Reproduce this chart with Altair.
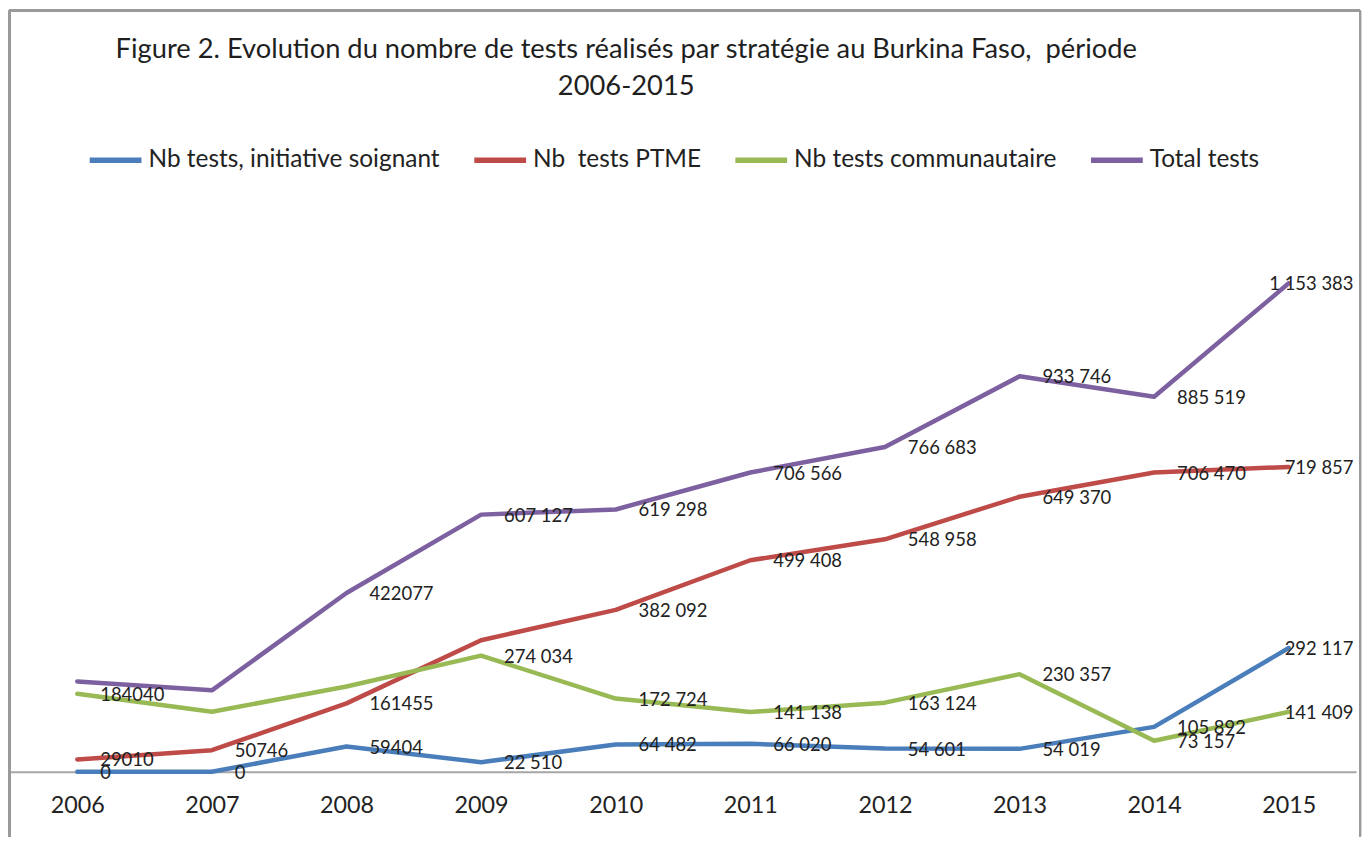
import altair as alt
import pandas as pd

years = ["2006", "2007", "2008", "2009", "2010", "2011", "2012", "2013", "2014", "2015"]

series_names = [
    "Nb tests, initiative soignant",
    "Nb\u00a0 tests PTME",
    "Nb tests communautaire",
    "Total tests",
]
series_colors = ["#4a7ebb", "#be4b48", "#98b954", "#7d60a0"]

soignant = [0, 0, 59404, 22510, 64482, 66020, 54601, 54019, 105892, 292117]
ptme = [29010, 50746, 161455, 310583, 382092, 499408, 548958, 649370, 706470, 719857]
communautaire = [184040, 141500, 201218, 274034, 172724, 141138, 163124, 230357, 73157, 141409]
total = [213050, 192246, 422077, 607127, 619298, 706566, 766683, 933746, 885519, 1153383]

soignant_labels = ["0", "0", "59404", "22 510", "64 482", "66 020", "54 601", "54 019", "105 892", "292 117"]
ptme_labels = ["29010", "50746", "161455", "", "382 092", "499 408", "548 958", "649 370", "706 470", "719 857"]
communautaire_labels = ["184040", "", "", "274 034", "172 724", "141 138", "163 124", "230 357", "73 157", "141 409"]
total_labels = ["", "", "422077", "607 127", "619 298", "706 566", "766 683", "933 746", "885 519", "1 153 383"]

title_lines = [
    "Figure 2. Evolution du nombre de tests réalisés par stratégie au Burkina Faso,\u00a0 période",
    "2006-2015",
]

rows = []
for name, vals, labs in zip(series_names,
                            [soignant, ptme, communautaire, total],
                            [soignant_labels, ptme_labels, communautaire_labels, total_labels]):
    for y, v, l in zip(years, vals, labs):
        rows.append({"year": y, "series": name, "value": v, "label": l})
df = pd.DataFrame(rows)

W, H = 1351, 595
FONT = "Lato"
TXT = "#222222"

x_enc = alt.X("year:O", scale=alt.Scale(type="point", padding=0.5),
              axis=alt.Axis(title=None, labelAngle=0, ticks=False, tickSize=0,
                            domainColor="#a6a6a6", domainWidth=2, grid=False,
                            labelFont=FONT, labelFontSize=23.4, labelColor=TXT,
                            labelPadding=23))
y_enc = alt.Y("value:Q", scale=alt.Scale(domain=[0, 1400000]), axis=None)
color_enc = alt.Color("series:N",
                      scale=alt.Scale(domain=series_names, range=series_colors),
                      legend=alt.Legend(title=None, orient="none", legendX=77, legendY=-48,
                                        direction="horizontal", columns=4,
                                        symbolType="stroke", symbolSize=2700,
                                        symbolStrokeWidth=5.5, labelFont=FONT,
                                        labelFontSize=24.5, labelColor=TXT,
                                        labelLimit=600, labelOffset=4,
                                        columnPadding=23, padding=0))

base = alt.Chart(df)

line_layers = []
for name in series_names:
    line_layers.append(
        base.transform_filter(alt.datum.series == name)
        .mark_line(strokeWidth=4.5, strokeCap="round", strokeJoin="round")
        .encode(x=x_enc, y=y_enc, color=color_enc)
    )

labels_main = base.transform_filter(
    (alt.datum.label != "") & (alt.datum.year != "2015")
).mark_text(align="left", baseline="middle", dx=23, dy=1, font=FONT,
            fontSize=18.5, color=TXT).encode(x=x_enc, y=y_enc, text="label:N")

labels_last = base.transform_filter(
    (alt.datum.label != "") & (alt.datum.year == "2015")
).mark_text(align="right", baseline="middle", dx=65, dy=1, font=FONT,
            fontSize=18.5, color=TXT).encode(x=x_enc, y=y_enc, text="label:N")

frame_color = "#9a9a9a"
frame_left = alt.Chart(df).mark_rule(color=frame_color, strokeWidth=2).encode(
    x=alt.value(-0.5), y=alt.value(-169), y2=alt.value(H + 65))
frame_top = alt.Chart(df).mark_rule(color=frame_color, strokeWidth=2).encode(
    x=alt.value(-0.5), x2=alt.value(1355), y=alt.value(-169))
frame_right = alt.Chart(df).mark_rule(color=frame_color, strokeWidth=2).encode(
    x=alt.value(1355), y=alt.value(-169), y2=alt.value(H + 65))

chart = alt.layer(
    frame_left, frame_top, frame_right, *line_layers, labels_main, labels_last
).properties(
    width=W, height=H,
    background="white",
    padding={"left": 2, "top": 170, "right": 8, "bottom": 65},
    autosize=alt.AutoSizeParams(type="none"),
    title=alt.TitleParams(text=title_lines, anchor="middle", dx=-57, dy=91,
                          font=FONT, fontSize=27.4, fontWeight="normal",
                          color="#1f1f1f", lineHeight=37, offset=0),
).configure_view(stroke=None)

chart.save("out.html", embed_options={"renderer": "svg", "actions": False})
